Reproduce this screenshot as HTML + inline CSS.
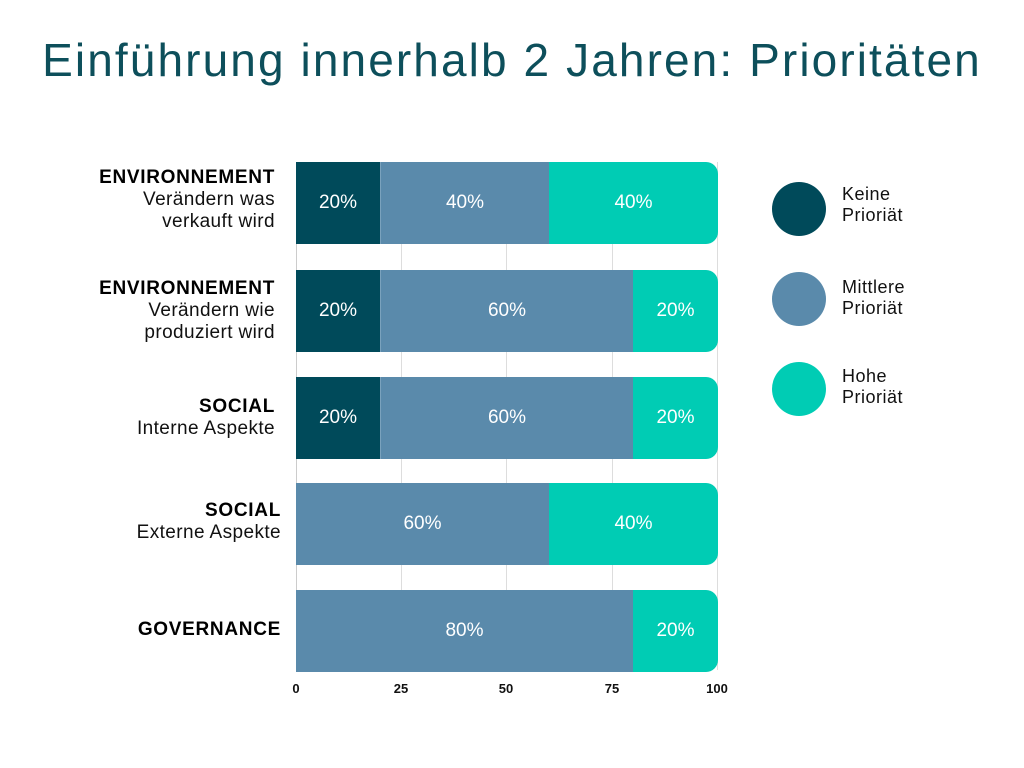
<!DOCTYPE html><html><head><style>
body{margin:0;width:1024px;height:768px;background:#fff;font-family:"Liberation Sans",sans-serif;position:relative;overflow:hidden}
.a{position:absolute}
.t{left:0;width:1024px;top:33px;text-align:center;font-size:46px;color:#0d4f5b;letter-spacing:2.1px}
.g{width:1px;background:#ddd;top:162px;height:508px}
.s{height:82px;color:#fff;font-size:19px;display:flex;align-items:center;justify-content:center;box-sizing:border-box}
.d{background:#004a5a}.m{background:#5a8aab;border-left:1px solid #7aa2bd}.h{background:#00ccb4;border-radius:0 12px 12px 0}
.l{text-align:right;font-size:19px;line-height:22px;color:#111;letter-spacing:0.4px}
.l b{font-weight:bold;color:#000;letter-spacing:0.7px}
.k{width:54px;height:54px;border-radius:50%}
.kt{font-size:18px;line-height:21px;color:#111;letter-spacing:0.5px}
.x{font-size:13px;top:681px;width:40px;text-align:center;color:#111;font-weight:bold}
</style></head><body>
<div class="a t">Einführung innerhalb 2 Jahren: Prioritäten</div>
<div class="a g" style="left:401px"></div><div class="a g" style="left:506px"></div><div class="a g" style="left:612px"></div><div class="a g" style="left:717px"></div>
<div class="a g" style="left:296px;background:#ccc"></div>

<div class="a s d" style="left:296px;top:162px;width:84px">20%</div>
<div class="a s m" style="left:380px;top:162px;width:169px">40%</div>
<div class="a s h" style="left:549px;top:162px;width:169px">40%</div>

<div class="a s d" style="left:296px;top:270px;width:84px">20%</div>
<div class="a s m" style="left:380px;top:270px;width:253px">60%</div>
<div class="a s h" style="left:633px;top:270px;width:85px">20%</div>

<div class="a s d" style="left:296px;top:377px;width:84px">20%</div>
<div class="a s m" style="left:380px;top:377px;width:253px">60%</div>
<div class="a s h" style="left:633px;top:377px;width:85px">20%</div>

<div class="a s m" style="left:296px;top:483px;width:253px;border-left:none">60%</div>
<div class="a s h" style="left:549px;top:483px;width:169px">40%</div>

<div class="a s m" style="left:296px;top:590px;width:337px;border-left:none">80%</div>
<div class="a s h" style="left:633px;top:590px;width:85px">20%</div>

<div class="a l" style="right:749px;top:167px"><b>ENVIRONNEMENT</b><br>Verändern was<br>verkauft wird</div>
<div class="a l" style="right:749px;top:278px"><b>ENVIRONNEMENT</b><br>Verändern wie<br>produziert wird</div>
<div class="a l" style="right:749px;top:396px"><b>SOCIAL</b><br>Interne Aspekte</div>
<div class="a l" style="right:743px;top:500px"><b>SOCIAL</b><br>Externe Aspekte</div>
<div class="a l" style="right:743px;top:619px"><b>GOVERNANCE</b></div>

<div class="a x" style="left:276px">0</div><div class="a x" style="left:381px">25</div><div class="a x" style="left:486px">50</div><div class="a x" style="left:592px">75</div><div class="a x" style="left:697px">100</div>

<div class="a k" style="left:772px;top:182px;background:#004a5a"></div>
<div class="a kt" style="left:842px;top:184px">Keine<br>Prioriät</div>
<div class="a k" style="left:772px;top:272px;background:#5a8aab"></div>
<div class="a kt" style="left:842px;top:277px">Mittlere<br>Prioriät</div>
<div class="a k" style="left:772px;top:362px;background:#00ccb4"></div>
<div class="a kt" style="left:842px;top:366px">Hohe<br>Prioriät</div>
</body></html>
